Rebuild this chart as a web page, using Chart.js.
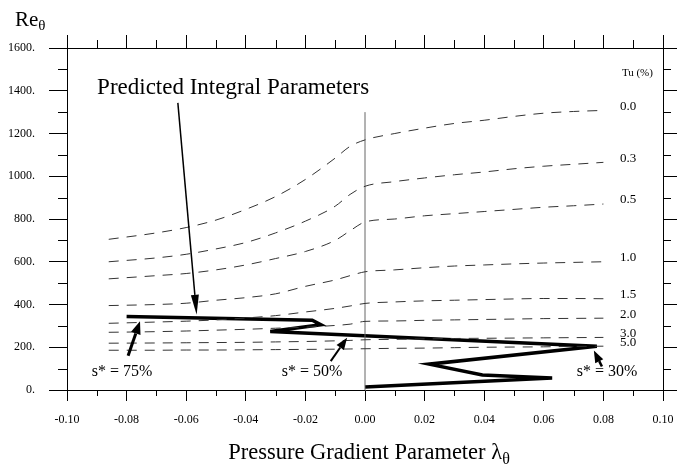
<!doctype html>
<html lang="en">
  <head>
    <meta charset="utf-8">
    <title>Re theta vs pressure gradient parameter</title>
    <style>
      * {
        margin: 0;
        padding: 0;
      }
      body {
        background: #fff;
      }
      .chartBox {
        width: 677px;
        height: 467px;
      }
    </style>
  </head>
  <body>
    <div class="chartBox">
      <canvas id="myChart" width="677" height="467"></canvas>
    </div>
    <script src="https://cdn.jsdelivr.net/npm/chart.js/dist/chart.umd.min.js"></script>
    <script>
    // lambda_theta sample points shared by the Tu curves
    const lambdaPts = [-0.086, -0.07, -0.06, -0.05, -0.04, -0.03, -0.02, -0.01, -0.005,
                       0, 0.01, 0.02, 0.03, 0.04, 0.05, 0.06, 0.07, 0.08];

    // Re_theta per turbulence level (Tu %)
    const tuLabels = ['0.0', '0.3', '0.5', '1.0', '1.5', '2.0', '3.0', '5.0'];
    const reTu00 = [705, 735, 760, 795, 845, 905, 985, 1085, 1140, 1170, 1200, 1225, 1247, 1262, 1280, 1295, 1303, 1308];
    const reTu03 = [600, 618, 635, 660, 690, 735, 790, 860, 915, 953, 975, 992, 1007, 1020, 1035, 1047, 1056, 1065];
    const reTu05 = [520, 535, 545, 562, 585, 615, 648, 700, 745, 786, 800, 815, 825, 835, 845, 855, 862, 870];
    const reTu10 = [395, 400, 406, 420, 432, 450, 485, 515, 535, 553, 562, 572, 580, 585, 590, 594, 597, 600];
    const reTu15 = [312, 318, 322, 328, 337, 348, 365, 382, 393, 405, 412, 417, 420, 423, 426, 428, 428, 427];
    const reTu20 = [270, 273, 276, 280, 284, 289, 294, 302, 308, 321, 323, 326, 328, 330, 332, 334, 335, 336];
    const reTu30 = [219, 220, 221, 222, 223, 225, 227, 230, 232, 235, 237, 239, 241, 242, 243, 244, 245, 246];
    const reTu50 = [186, 186, 187, 187, 188, 189, 190, 191, 192, 193, 195, 196, 198, 200, 201, 202, 204, 205];
    const tuSeries = [reTu00, reTu03, reTu05, reTu10, reTu15, reTu20, reTu30, reTu50];

    // predicted integral parameters path
    const predLambda = [-0.080, -0.0177, -0.0148, -0.0318, 0.0778, 0.0215, 0.0394, 0.0628, 0.0];
    const predRe = [344, 326, 305, 274, 205, 121, 70, 56, 14];

    // lambda = 0 reference line
    const zeroLineRe = [0, 1300];

    const serif = "'Liberation Serif', 'DejaVu Serif', serif";

    const datasets = tuSeries.map((s, i) => ({
      label: 'Tu ' + tuLabels[i],
      data: lambdaPts.map((x, j) => ({ x: x, y: s[j] })),
      showLine: true,
      borderColor: '#333',
      borderWidth: 1,
      borderDash: [10, 8],
      pointRadius: 0,
      tension: 0.4,
      cubicInterpolationMode: 'monotone'
    }));

    datasets.push({
      label: 'zero',
      data: zeroLineRe.map(y => ({ x: 0, y: y })),
      showLine: true,
      borderColor: '#666',
      borderWidth: 1,
      pointRadius: 0
    });

    datasets.push({
      label: 'Predicted Integral Parameters',
      data: predLambda.map((x, i) => ({ x: x, y: predRe[i] })),
      showLine: true,
      borderColor: '#000',
      borderWidth: 3.5,
      pointRadius: 0,
      tension: 0
    });

    // minor tick marks (the library draws the major ones)
    const minorTicks = {
      id: 'minorTicks',
      afterDraw(chart) {
        const { ctx, chartArea: a, scales } = chart;
        ctx.save();
        ctx.strokeStyle = '#000';
        ctx.lineWidth = 1;
        ctx.beginPath();
        for (let i = -9; i <= 9; i += 2) {
          const px = Math.round(scales.x.getPixelForValue(i / 100)) + 0.5;
          ctx.moveTo(px, a.bottom); ctx.lineTo(px, a.bottom + 6);
          ctx.moveTo(px, a.top); ctx.lineTo(px, a.top - 8);
        }
        for (let v = 100; v < 1600; v += 200) {
          const py = Math.round(scales.y.getPixelForValue(v)) + 0.5;
          ctx.moveTo(a.left, py); ctx.lineTo(a.left - 9, py);
          ctx.moveTo(a.right, py); ctx.lineTo(a.right + 8, py);
        }
        ctx.stroke();
        ctx.restore();
      }
    };

    function drawArrow(ctx, x1, y1, x2, y2, w, len, half) {
      const ang = Math.atan2(y2 - y1, x2 - x1);
      const bx = x2 - len * Math.cos(ang), by = y2 - len * Math.sin(ang);
      ctx.lineWidth = w;
      ctx.beginPath(); ctx.moveTo(x1, y1); ctx.lineTo(bx, by); ctx.stroke();
      ctx.beginPath();
      ctx.moveTo(x2, y2);
      ctx.lineTo(bx + half * Math.sin(ang), by - half * Math.cos(ang));
      ctx.lineTo(bx - half * Math.sin(ang), by + half * Math.cos(ang));
      ctx.closePath(); ctx.fill();
    }

    // labels, arrows and axis titles
    const annotations = {
      id: 'annotations',
      afterDraw(chart) {
        const { ctx, scales } = chart;
        const X = v => scales.x.getPixelForValue(v);
        const Y = v => scales.y.getPixelForValue(v);
        ctx.save();
        ctx.fillStyle = '#000';
        ctx.strokeStyle = '#000';

        // arrows
        drawArrow(ctx, X(-0.0628), Y(1343), X(-0.0565), Y(352), 1.5, 20, 4);
        drawArrow(ctx, X(-0.0795), Y(160), X(-0.0755), Y(322), 3, 13, 5);
        drawArrow(ctx, X(-0.0115), Y(135), X(-0.006), Y(245), 2, 12, 4.5);
        drawArrow(ctx, X(0.0795), Y(110), X(0.0768), Y(185), 2.5, 12, 4.5);

        ctx.textBaseline = 'middle';
        ctx.textAlign = 'left';
        ctx.font = '23px ' + serif;
        ctx.fillText('Predicted Integral Parameters', X(-0.0899), Y(1413));

        ctx.textAlign = 'center';
        ctx.font = '16px ' + serif;
        ctx.fillText('s* = 75%', X(-0.0815), Y(84));
        ctx.fillText('s* = 50%', X(-0.0178), Y(84));
        ctx.fillText('s* = 30%', X(0.0812), Y(84));

        ctx.textAlign = 'left';
        ctx.font = '11px ' + serif;
        ctx.fillText('Tu (%)', X(0.0862), Y(1483));

        ctx.font = '13px ' + serif;
        tuSeries.forEach((s, i) => {
          ctx.fillText(tuLabels[i], X(0.0856), Y(s[s.length - 1]) - 4);
        });

        // y axis title: Re_theta
        ctx.textBaseline = 'alphabetic';
        ctx.font = '21px ' + serif;
        ctx.fillText('Re', 15, 26);
        const reW = ctx.measureText('Re').width;
        ctx.font = '15px ' + serif;
        ctx.fillText('\u03b8', 15 + reW, 30);

        // x axis title: Pressure Gradient Parameter lambda_theta
        const main = 'Pressure Gradient Parameter \u03bb';
        ctx.font = '22.5px ' + serif;
        const mw = ctx.measureText(main).width;
        ctx.font = '16px ' + serif;
        const sw = ctx.measureText('\u03b8').width;
        const x0 = 369 - (mw + sw) / 2;
        ctx.font = '22.5px ' + serif;
        ctx.fillText(main, x0, 459);
        ctx.font = '16px ' + serif;
        ctx.fillText('\u03b8', x0 + mw, 464);
        ctx.restore();
      }
    };

    const tickFont = { family: serif, size: 12 };

    const config = {
      type: 'scatter',
      data: { datasets },
      options: {
        responsive: false,
        animation: false,
        layout: { padding: 0 },
        plugins: {
          legend: { display: false },
          tooltip: { enabled: false }
        },
        scales: {
          x: {
            type: 'linear',
            position: 'bottom',
            min: -0.1,
            max: 0.1,
            afterFit: s => { s.height = 77; s.paddingLeft = 0; s.paddingRight = 0; },
            border: { display: true, color: '#000', width: 1 },
            grid: { drawOnChartArea: false, drawTicks: true, tickLength: 11, color: '#000' },
            ticks: {
              stepSize: 0.02,
              maxRotation: 0,
              padding: 12,
              color: '#000',
              font: tickFont,
              callback: v => Math.abs(v) < 1e-9 ? '0.00' : Number(v).toFixed(2)
            }
          },
          x2: {
            type: 'linear',
            position: 'top',
            min: -0.1,
            max: 0.1,
            afterFit: s => { s.height = 48; s.paddingLeft = 0; s.paddingRight = 0; },
            border: { display: true, color: '#000', width: 1 },
            grid: { drawOnChartArea: false, drawTicks: true, tickLength: 13, color: '#000' },
            ticks: { stepSize: 0.02, display: false }
          },
          y: {
            type: 'linear',
            position: 'left',
            min: 0,
            max: 1600,
            afterFit: s => { s.width = 67; s.paddingTop = 0; s.paddingBottom = 0; },
            border: { display: true, color: '#000', width: 1 },
            grid: { drawOnChartArea: false, drawTicks: true, tickLength: 18, color: '#000' },
            ticks: {
              stepSize: 200,
              padding: 14,
              color: '#000',
              font: tickFont,
              callback: v => v + '.'
            }
          },
          y2: {
            type: 'linear',
            position: 'right',
            min: 0,
            max: 1600,
            afterFit: s => { s.width = 14; s.paddingTop = 0; s.paddingBottom = 0; },
            border: { display: true, color: '#000', width: 1 },
            grid: { drawOnChartArea: false, drawTicks: true, tickLength: 14, color: '#000' },
            ticks: { stepSize: 200, display: false }
          }
        }
      },
      plugins: [minorTicks, annotations]
    };

    const myChart = new Chart(document.getElementById('myChart'), config);
    </script>
  </body>
</html>
